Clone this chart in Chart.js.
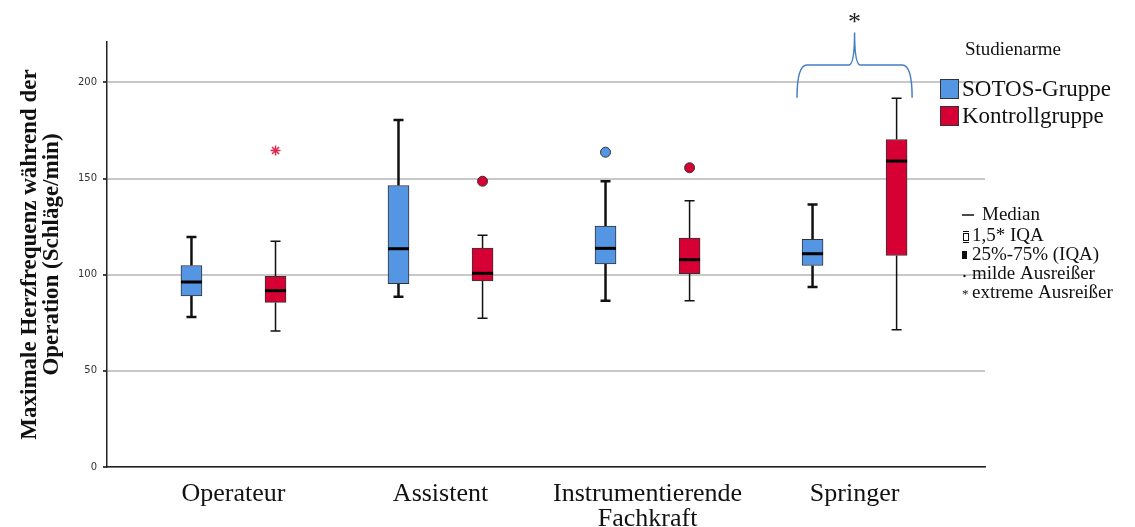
<!DOCTYPE html>
<html>
<head>
<meta charset="utf-8">
<script src="https://cdn.jsdelivr.net/npm/chart.js@4"></script>
<style>
  html, body { margin: 0; padding: 0; background: #fff; }
  #wrap { width: 1135px; height: 527px; }
</style>
</head>
<body>
<div id="wrap"><canvas id="herz" width="1135" height="527"></canvas></div>
<script>
// Tätigkeiten (x-Achse)
const categories = ['Operateur', 'Assistent', ['Instrumentierende', 'Fachkraft'], 'Springer'];
const yTicks = [0, 50, 100, 150, 200];

// SOTOS-Gruppe
const sotosMin    = [78, 88.5, 86.5, 93.6];
const sotosQ1     = [89, 95.3, 105.6, 104.8];
const sotosMedian = [96.2, 113.5, 113.7, 110.9];
const sotosQ3     = [104.8, 146.4, 125.3, 118.4];
const sotosMax    = [119.6, 180.4, 148.6, 136.5];

// Kontrollgruppe
const kontrollMin    = [70.7, 77.4, 86.5, 71.4];
const kontrollQ1     = [85.6, 96.7, 100.5, 110];
const kontrollMedian = [91.7, 100.7, 107.8, 159.1];
const kontrollQ3     = [99.1, 113.9, 119.1, 170.3];
const kontrollMax    = [117.4, 120.5, 138.5, 191.7];

// Ausreißer: [Kategorie, Wert]
const sotosMild = [[2, 163.7]];
const kontrollMild = [[1, 148.6], [2, 155.6]];
const kontrollExtrem = [[0, 164.6]];

// Signifikanz-Klammer über Springer
const braceCategory = 3;
const braceLow = 192, braceTop = 209, bracePeak = 226, braceStar = 234;

const blue = 'rgb(85,150,228)';
const red = 'rgb(214,0,52)';
const off = 0.203;
const serif = "'Liberation Serif', 'DejaVu Serif', serif";

const groups = [
  {min: sotosMin, q1: sotosQ1, med: sotosMedian, q3: sotosQ3, max: sotosMax, dx: -off, lw: 2.5},
  {min: kontrollMin, q1: kontrollQ1, med: kontrollMedian, q3: kontrollQ3, max: kontrollMax, dx: off, lw: 1.5}
];

const boxPlugin = {
  id: 'boxparts',
  beforeDatasetsDraw(chart) {
    const {ctx, scales: {x, y}} = chart;
    ctx.save();
    ctx.strokeStyle = '#111';
    groups.forEach(g => {
      ctx.lineWidth = g.lw;
      g.min.forEach((v, i) => {
        const px = x.getPixelForValue(i + g.dx);
        ctx.beginPath();
        ctx.moveTo(px, y.getPixelForValue(g.min[i]));
        ctx.lineTo(px, y.getPixelForValue(g.q1[i]));
        ctx.moveTo(px, y.getPixelForValue(g.q3[i]));
        ctx.lineTo(px, y.getPixelForValue(g.max[i]));
        ctx.moveTo(px - 5, y.getPixelForValue(g.min[i]));
        ctx.lineTo(px + 5, y.getPixelForValue(g.min[i]));
        ctx.moveTo(px - 5, y.getPixelForValue(g.max[i]));
        ctx.lineTo(px + 5, y.getPixelForValue(g.max[i]));
        ctx.stroke();
      });
    });
    ctx.restore();
  },
  afterDatasetsDraw(chart) {
    const {ctx, scales: {x, y}} = chart;
    ctx.save();
    ctx.strokeStyle = '#000';
    ctx.lineWidth = 3;
    groups.forEach(g => {
      g.med.forEach((v, i) => {
        const px = x.getPixelForValue(i + g.dx);
        const py = y.getPixelForValue(v);
        ctx.beginPath();
        ctx.moveTo(px - 10.5, py);
        ctx.lineTo(px + 10.5, py);
        ctx.stroke();
      });
    });
    ctx.restore();
  },
  afterDraw(chart) {
    const {ctx, scales: {x, y}} = chart;
    ctx.save();
    // Klammer
    const xl = x.getPixelForValue(braceCategory - 0.278);
    const xr = x.getPixelForValue(braceCategory + 0.278);
    const xm = x.getPixelForValue(braceCategory);
    const yl = y.getPixelForValue(braceLow);
    const yt = y.getPixelForValue(braceTop);
    const yp = y.getPixelForValue(bracePeak);
    ctx.strokeStyle = 'rgb(70,125,195)';
    ctx.lineWidth = 1.5;
    ctx.beginPath();
    ctx.moveTo(xl, yl);
    ctx.quadraticCurveTo(xl, yt, xl + 10, yt);
    ctx.lineTo(xm - 6, yt);
    ctx.quadraticCurveTo(xm, yt, xm, yp);
    ctx.quadraticCurveTo(xm, yt, xm + 6, yt);
    ctx.lineTo(xr - 10, yt);
    ctx.quadraticCurveTo(xr, yt, xr, yl);
    ctx.stroke();
    ctx.fillStyle = '#222';
    ctx.font = '26px ' + serif;
    ctx.textAlign = 'center';
    ctx.textBaseline = 'middle';
    ctx.fillText('*', xm, y.getPixelForValue(braceStar) + 6);

    // Legende
    ctx.textAlign = 'left';
    ctx.fillStyle = '#111';
    ctx.font = '19px ' + serif;
    ctx.fillText('Studienarme', 965, 50);
    ctx.font = '23px ' + serif;
    [[blue, 'SOTOS-Gruppe', 89], [red, 'Kontrollgruppe', 116]].forEach(([c, t, cy]) => {
      ctx.fillStyle = c;
      ctx.fillRect(940, cy - 10, 19, 20);
      ctx.strokeStyle = '#333';
      ctx.lineWidth = 1;
      ctx.strokeRect(940.5, cy - 9.5, 18, 19);
      ctx.fillStyle = '#111';
      ctx.fillText(t, 962, cy + 1);
    });

    ctx.font = '19px ' + serif;
    ctx.fillStyle = '#111';
    ctx.strokeStyle = '#111';
    ctx.lineWidth = 1.5;
    ctx.beginPath(); ctx.moveTo(962, 215); ctx.lineTo(974, 215); ctx.stroke();
    ctx.fillText('Median', 982, 215);
    ctx.lineWidth = 1;
    ctx.strokeRect(963.5, 233.5, 5, 7);
    ctx.beginPath(); ctx.moveTo(963, 231.5); ctx.lineTo(969, 231.5); ctx.moveTo(963, 242.5); ctx.lineTo(969, 242.5); ctx.stroke();
    ctx.fillText('1,5* IQA', 972, 236);
    ctx.fillRect(962, 251, 5, 8);
    ctx.fillText('25%-75% (IQA)', 972, 255);
    ctx.beginPath(); ctx.arc(964.5, 276, 1.2, 0, Math.PI * 2); ctx.fill();
    ctx.fillText('milde Ausreißer', 972, 274);
    ctx.font = '13px ' + serif;
    ctx.fillText('*', 962, 295);
    ctx.font = '19px ' + serif;
    ctx.fillText('extreme Ausreißer', 972, 293);
    ctx.restore();
  }
};

const toPoints = (list, dx) => list.map(([i, v]) => ({x: i + dx, y: v}));

new Chart(document.getElementById('herz').getContext('2d'), {
  data: {
    datasets: [
      {
        type: 'bar',
        label: 'SOTOS-Gruppe',
        data: sotosQ1.map((q, i) => ({x: i - off, y: [q, sotosQ3[i]]})),
        backgroundColor: blue,
        borderColor: '#333',
        borderWidth: 1,
        borderSkipped: false,
        barThickness: 21,
        grouped: false
      },
      {
        type: 'bar',
        label: 'Kontrollgruppe',
        data: kontrollQ1.map((q, i) => ({x: i + off, y: [q, kontrollQ3[i]]})),
        backgroundColor: red,
        borderColor: '#333',
        borderWidth: 1,
        borderSkipped: false,
        barThickness: 21,
        grouped: false
      },
      {
        type: 'scatter',
        data: toPoints(sotosMild, -off),
        pointRadius: 5,
        pointBackgroundColor: blue,
        pointBorderColor: '#333',
        pointBorderWidth: 1
      },
      {
        type: 'scatter',
        data: toPoints(kontrollMild, off),
        pointRadius: 5,
        pointBackgroundColor: red,
        pointBorderColor: '#333',
        pointBorderWidth: 1
      },
      {
        type: 'scatter',
        data: toPoints(kontrollExtrem, off),
        pointStyle: 'star',
        pointRadius: 5,
        pointBorderColor: 'rgb(225,40,80)',
        pointBorderWidth: 1.5
      }
    ]
  },
  options: {
    responsive: false,
    animation: false,
    layout: {padding: {top: 42, right: 150, left: 0, bottom: 0}},
    plugins: {
      legend: {display: false},
      tooltip: {enabled: false}
    },
    scales: {
      x: {
        type: 'linear',
        offset: false,
        min: -0.611,
        max: 3.63,
        afterFit: s => { s.height = 60; },
        afterBuildTicks: s => { s.ticks = categories.map((c, i) => ({value: i})); },
        grid: {display: false, offset: false},
        border: {display: true, color: '#222', width: 1.5},
        ticks: {
          padding: 7,
          color: '#111',
          font: {family: serif, size: 26, lineHeight: 0.95},
          maxRotation: 0,
          autoSkip: false,
          callback: (v) => categories[v]
        }
      },
      y: {
        min: 0,
        max: 221,
        afterFit: s => { s.width = 107; },
        afterBuildTicks: s => { s.ticks = yTicks.map(v => ({value: v})); },
        grid: {color: '#c8c8c8', lineWidth: 2, tickLength: 4, tickColor: '#444'},
        border: {display: true, color: '#222', width: 1.5},
        ticks: {
          padding: 6,
          color: '#333',
          font: {family: "'DejaVu Sans', sans-serif", size: 10}
        },
        title: {
          display: true,
          text: ['Maximale Herzfrequenz während der', 'Operation (Schläge/min)'],
          color: '#111',
          font: {family: serif, size: 23, weight: 'bold', lineHeight: 0.95},
          padding: {top: 19, bottom: 0}
        }
      }
    }
  },
  plugins: [boxPlugin]
});
</script>
</body>
</html>
